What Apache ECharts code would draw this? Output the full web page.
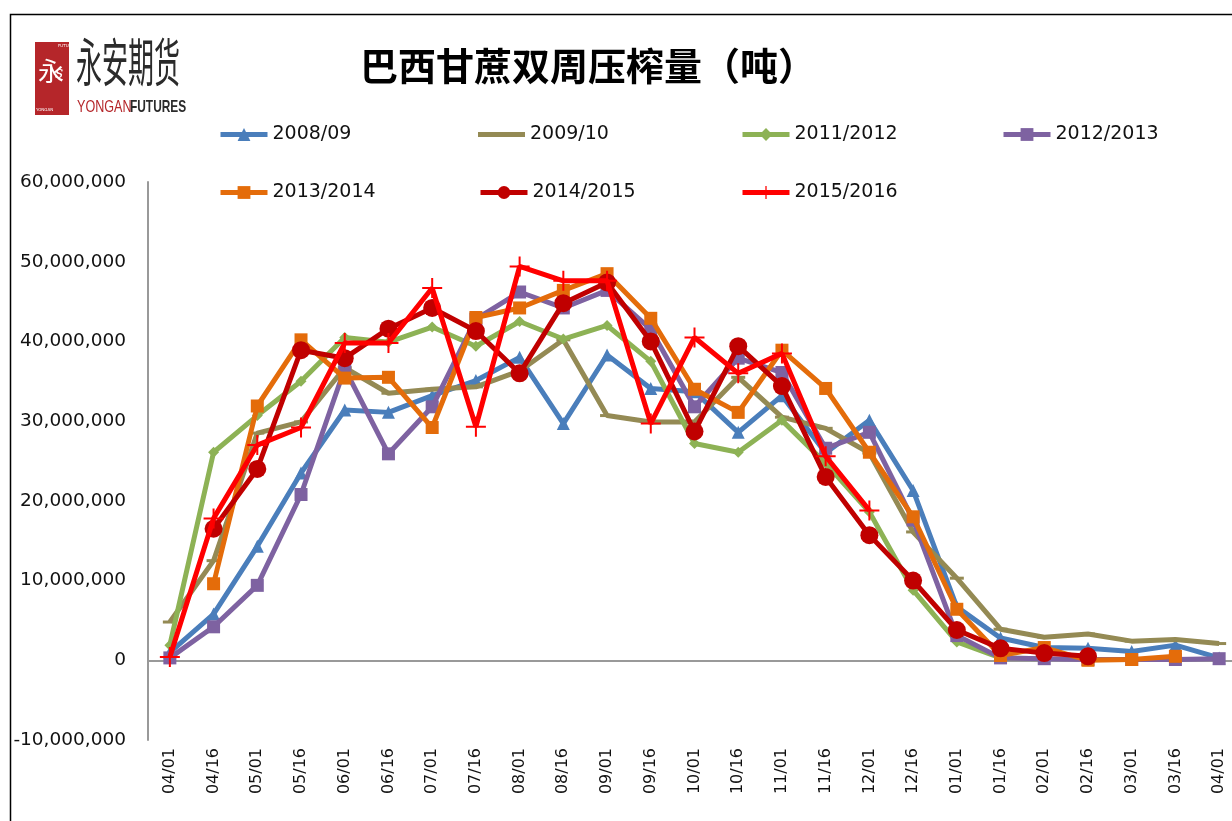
<!DOCTYPE html>
<html>
<head>
<meta charset="utf-8">
<script src="https://cdn.jsdelivr.net/npm/echarts@6/dist/echarts.min.js"></script>
<style>html,body{margin:0;padding:0;background:#fff;overflow:hidden;width:1232px;height:821px;}#c{width:1242px;height:821px;}</style>
</head>
<body>
<div id="c"></div>
<script>
var categories = ['04/01','04/16','05/01','05/16','06/01','06/16','07/01','07/16','08/01','08/16','09/01','09/16','10/01','10/16','11/01','11/16','12/01','12/16','01/01','01/16','02/01','02/16','03/01','03/16','04/01'];
var yTicks = [-10000000, 0, 10000000, 20000000, 30000000, 40000000, 50000000, 60000000];

var s2008 = [1000000, 5800000, 14300000, 23500000, 31400000, 31100000, 33200000, 35100000, 38000000, 29700000, 38300000, 34100000, 33700000, 28600000, 33200000, 26000000, 30100000, 21300000, 6700000, 2800000, 1600000, 1500000, 1100000, 1900000, 300000];
var s2009 = [4800000, 12500000, 28500000, 29900000, 36700000, 33500000, 34000000, 34300000, 36300000, 40200000, 30700000, 29900000, 29900000, 35500000, 30500000, 29100000, 26000000, 16100000, 10300000, 3900000, 2900000, 3300000, 2400000, 2600000, 2100000];
var s2011 = [1900000, 26100000, 30700000, 35000000, 40500000, 39900000, 41800000, 39400000, 42500000, 40300000, 42000000, 37500000, 27200000, 26100000, 30100000, 24700000, 18600000, 8800000, 2300000, 300000, 200000, null, null, null, null];
var s2012 = [300000, 4200000, 9400000, 20800000, 36600000, 25900000, 31800000, 42800000, 46200000, 44200000, 46400000, 41500000, 31800000, 37900000, 36100000, 26600000, 28600000, 17600000, 3100000, 300000, 200000, 100000, 100000, 100000, 200000];
var s2013 = [null, 9600000, 31900000, 40200000, 35400000, 35500000, 29200000, 43000000, 44200000, 46400000, 48500000, 42900000, 34000000, 31100000, 38900000, 34100000, 26100000, 18000000, 6400000, 600000, 1600000, 0, 100000, 500000, null];
var s2014 = [null, 16500000, 24000000, 38900000, 37900000, 41600000, 44200000, 41300000, 36000000, 44800000, 47400000, 40000000, 28700000, 39400000, 34400000, 23000000, 15700000, 10000000, 3800000, 1500000, 900000, 500000, null, null, null];
var s2015 = [400000, 17800000, 27000000, 29200000, 39800000, 39800000, 46700000, 29300000, 49400000, 47600000, 47600000, 29700000, 40500000, 36000000, 38500000, 25600000, 18800000, null, null, null, null, null, null, null, null];

var seriesNames = ['2008/09','2009/10','2011/2012','2012/2013','2013/2014','2014/2015','2015/2016'];
var seriesColors = ['#4A7EBB','#948A54','#8DB255','#7E62A1','#E46C0A','#C00000','#FF0000'];
var seriesData = [s2008, s2009, s2011, s2012, s2013, s2014, s2015];
var plusPath = 'path://M9,0 L11,0 L11,9 L20,9 L20,11 L11,11 L11,20 L9,20 L9,11 L0,11 L0,9 L9,9 Z';
var symbols = ['triangle', 'rect', 'diamond', 'rect', 'rect', 'circle', plusPath];
var symbolSizes = [13, [14, 3], 11, 13, 13, 18, 20];
var legendPos = [[218,125],[478,125],[740,125],[1001,125],[218,183],[478,183],[740,183]];

function fmt(v) {
  var s = Math.abs(v).toString().replace(/\B(?=(\d{3})+(?!\d))/g, ',');
  return (v < 0 ? '-' : '') + s;
}

var chart = echarts.init(document.getElementById('c'), null, {renderer: 'canvas'});

var series = seriesNames.map(function (n, i) {
  return {
    name: n,
    type: 'line',
    data: seriesData[i],
    symbol: symbols[i],
    symbolSize: symbolSizes[i],
    showAllSymbol: true,
    connectNulls: false,
    lineStyle: {width: 5, color: seriesColors[i]},
    itemStyle: {color: seriesColors[i], borderWidth: 0},
    emphasis: {disabled: true},
    animation: false,
    z: 2 + i
  };
});

var legends = seriesNames.map(function (n, i) {
  return {
    data: [n],
    left: legendPos[i][0],
    top: legendPos[i][1],
    itemWidth: 47,
    itemHeight: 16,
    padding: 0,
    selectedMode: false,
    lineStyle: {width: 5},
    textStyle: {fontFamily: 'DejaVu Sans', fontSize: 19, color: '#111'}
  };
});
legends[1].data = [{name: '2009/10', icon: 'path://M0,5.5 L47,5.5 L47,10.5 L0,10.5 Z', itemStyle: {color: seriesColors[1]}}];

var option = {
  backgroundColor: '#fff',
  animation: false,
  title: {
    text: '巴西甘蔗双周压榨量（吨）',
    left: 355,
    top: 42,
    textStyle: {fontFamily: 'Noto Sans CJK SC', fontSize: 38, fontWeight: 'bold', color: '#000'}
  },
  legend: legends,
  grid: {left: 148, top: 182, right: 1, bottom: 81, containLabel: false},
  xAxis: {
    type: 'category',
    data: categories,
    boundaryGap: true,
    axisLine: {onZero: true, lineStyle: {color: '#999', width: 2}},
    axisTick: {show: false},
    axisLabel: {rotate: 90, interval: 0, margin: 8, fontFamily: 'DejaVu Sans', fontSize: 16, color: '#111'},
    splitLine: {show: false}
  },
  yAxis: {
    type: 'value',
    min: -10000000,
    max: 60000000,
    interval: 10000000,
    axisLine: {show: true, lineStyle: {color: '#999', width: 2}},
    axisTick: {show: false},
    splitLine: {show: false},
    axisLabel: {margin: 22, fontFamily: 'DejaVu Sans', fontSize: 18.5, color: '#111', formatter: fmt}
  },
  graphic: [
    {type: 'rect', left: 8, top: 12, shape: {width: 1400, height: 1000}, style: {fill: 'none', stroke: '#000', lineWidth: 1.5}, silent: true},
    {type: 'rect', left: 35, top: 42, shape: {width: 34, height: 73}, style: {fill: '#B5262A'}},
    {type: 'text', left: 38, top: 58, style: {text: '永', fill: '#fff', font: '26px "Noto Sans CJK SC"'}},
    {type: 'text', left: 55, top: 66, style: {text: 's', fill: '#fff', font: 'italic 16px "DejaVu Serif"'}},
    {type: 'text', left: 58, top: 44, style: {text: 'FUTURES', fill: '#fff', font: '4px "DejaVu Sans"'}},
    {type: 'text', left: 36, top: 108, style: {text: 'YONGAN', fill: '#fff', font: '4px "DejaVu Sans"'}},
    {type: 'text', x: 76, y: 36, scaleY: 2.0, style: {text: '永安期货', fill: '#2b2b2b', font: '26px "Noto Sans CJK SC"'}},
    {type: 'text', x: 77, y: 99, scaleX: 0.74, style: {text: 'YONGAN', fill: '#B5262A', font: '17px "Liberation Sans Narrow", "Liberation Sans"'}},
    {type: 'text', x: 130, y: 99, scaleX: 0.7, style: {text: 'FUTURES', fill: '#2b2b2b', font: 'bold 17px "Liberation Sans Narrow", "Liberation Sans"'}}
  ],
  series: series
};
chart.setOption(option);
</script>
</body>
</html>
